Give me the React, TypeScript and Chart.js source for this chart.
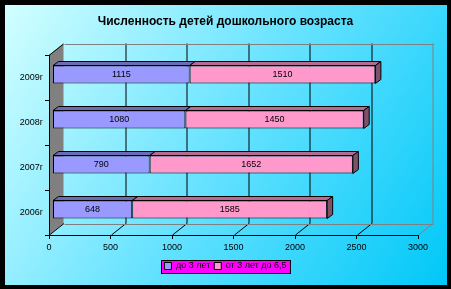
import React, { useEffect, useRef } from "react";
import { Chart, registerables } from "chart.js";

Chart.register(...registerables);

const categories = ["2006г", "2007г", "2008г", "2009г"];
const under3 = [648, 790, 1080, 1115];
const from3to65 = [1585, 1652, 1450, 1510];
const seriesNames = ["до 3 лет", "от 3 лет до 6,5"];
const titleText = "Численность детей дошкольного возраста";

const FONT = "Arial, 'Liberation Sans', sans-serif";
const DX = 14.5; // back-wall depth offset
const DY = 11.5;
const SHIFT_X = 3.5; // bars sit a little behind the front plane
const SHIFT_Y = 3;
const BDX = 5.5; // bar depth
const BDY = 4;

const topColors = ["#6b6bb8", "#b86b91"];
const sideColors = ["#55558a", "#80506a"];

const threeD = {
  id: "threeD",
  beforeDraw(chart: any) {
    const ctx = chart.ctx;
    const W = chart.width;
    const H = chart.height;
    ctx.save();
    ctx.fillStyle = "#000";
    ctx.fillRect(0, 0, W, H);
    const g = ctx.createLinearGradient(5, 5, 447, 285);
    g.addColorStop(0, "#d2ffff");
    g.addColorStop(0.5, "#66e2ff");
    g.addColorStop(1, "#00c8f8");
    ctx.fillStyle = g;
    ctx.fillRect(5, 5, 442, 280);

    const { left: L, right: R, top: T, bottom: B } = chart.chartArea;
    const xs = chart.scales.x;
    // side wall
    ctx.fillStyle = "#808080";
    ctx.beginPath();
    ctx.moveTo(L, T);
    ctx.lineTo(L + DX, T - DY);
    ctx.lineTo(L + DX, B - DY);
    ctx.lineTo(L, B);
    ctx.closePath();
    ctx.fill();
    ctx.strokeStyle = "#000";
    ctx.lineWidth = 1;
    ctx.beginPath();
    ctx.moveTo(L, T + 0.5);
    ctx.lineTo(L + DX, T - DY + 0.5);
    ctx.stroke();
    // back wall gridlines + floor diagonals
    const ticks = xs.ticks;
    ticks.forEach((t: any, i: number) => {
      const px = Math.round(xs.getPixelForValue(t.value)) + 0.5;
      const last = i === ticks.length - 1;
      ctx.strokeStyle = last ? "#808080" : "#000";
      if (i > 0) {
        ctx.beginPath();
        ctx.moveTo(px + DX, T - DY);
        ctx.lineTo(px + DX, B - DY);
        ctx.stroke();
      }
      ctx.beginPath();
      ctx.moveTo(px, B);
      ctx.lineTo(px + DX, B - DY);
      ctx.stroke();
    });
    // back wall frame
    ctx.strokeStyle = "#808080";
    ctx.beginPath();
    ctx.moveTo(Math.round(L + DX) + 0.5, Math.round(T - DY) + 0.5);
    ctx.lineTo(Math.round(R + DX) + 0.5, Math.round(T - DY) + 0.5);
    ctx.moveTo(Math.round(L + DX) + 0.5, Math.round(B - DY) + 0.5);
    ctx.lineTo(Math.round(R + DX) + 0.5, Math.round(B - DY) + 0.5);
    ctx.stroke();

    // legend background
    const lg = chart.legend;
    if (lg && lg.legendHitBoxes && lg.legendHitBoxes.length) {
      const hb = lg.legendHitBoxes;
      const minL = Math.min(...hb.map((h: any) => h.left));
      const maxR = Math.max(...hb.map((h: any) => h.left + h.width));
      const top = Math.min(...hb.map((h: any) => h.top));
      const bot = Math.max(...hb.map((h: any) => h.top + h.height));
      const x0 = Math.round(minL - 3) + 0.5;
      const y0 = Math.round(top - 2) + 0.5;
      const x1 = Math.round(maxR + 3) + 0.5;
      const y1 = Math.round(bot + 2) + 0.5;
      ctx.fillStyle = "#ff00ff";
      ctx.fillRect(x0, y0, x1 - x0, y1 - y0);
      ctx.strokeStyle = "#000";
      ctx.strokeRect(x0, y0, x1 - x0, y1 - y0);
    }
    ctx.restore();
  },
  beforeDatasetsDraw(chart: any) {
    chart.ctx.save();
    chart.ctx.translate(SHIFT_X, -SHIFT_Y);
  },
  afterDatasetsDraw(chart: any) {
    const ctx = chart.ctx;
    const nSets = chart.data.datasets.length;
    ctx.lineWidth = 1;
    ctx.strokeStyle = "#000";
    for (let d = 0; d < nSets; d++) {
      const meta = chart.getDatasetMeta(d);
      meta.data.forEach((bar: any) => {
        const { x, y, base, height } = bar.getProps(["x", "y", "base", "height"], true);
        const top = y - height / 2;
        const bottom = y + height / 2;
        ctx.fillStyle = topColors[d];
        ctx.beginPath();
        ctx.moveTo(base, top);
        ctx.lineTo(x, top);
        ctx.lineTo(x + BDX, top - BDY);
        ctx.lineTo(base + BDX, top - BDY);
        ctx.closePath();
        ctx.fill();
        ctx.stroke();
        if (d === nSets - 1) {
          ctx.fillStyle = sideColors[d];
          ctx.beginPath();
          ctx.moveTo(x, top);
          ctx.lineTo(x + BDX, top - BDY);
          ctx.lineTo(x + BDX, bottom - BDY);
          ctx.lineTo(x, bottom);
          ctx.closePath();
          ctx.fill();
          ctx.stroke();
        }
      });
    }
    ctx.fillStyle = "#000";
    ctx.font = `9px ${FONT}`;
    ctx.textAlign = "center";
    ctx.textBaseline = "middle";
    for (let d = 0; d < nSets; d++) {
      const meta = chart.getDatasetMeta(d);
      const vals = chart.data.datasets[d].data;
      meta.data.forEach((bar: any, i: number) => {
        const { x, y, base } = bar.getProps(["x", "y", "base"], true);
        ctx.fillText(String(vals[i]), (x + base) / 2, y + 0.5);
      });
    }
    ctx.restore();
  },
};

export default function App() {
  const ref = useRef<HTMLCanvasElement | null>(null);
  useEffect(() => {
    if (!ref.current) return;
    const chart = new Chart(ref.current, {
      type: "bar",
      data: {
        labels: categories,
        datasets: [
          {
            label: seriesNames[0],
            data: under3,
            backgroundColor: "#9999ff",
            borderColor: "#000",
            borderWidth: 1,
            borderSkipped: false,
          },
          {
            label: seriesNames[1],
            data: from3to65,
            backgroundColor: "#ff99cc",
            borderColor: "#000",
            borderWidth: 1,
            borderSkipped: false,
          },
        ],
      },
      options: {
        indexAxis: "y",
        responsive: false,
        animation: false,
        devicePixelRatio: 1,
        layout: { padding: { left: 0, right: 0, top: 0, bottom: 8.5 } },
        datasets: { bar: { categoryPercentage: 1, barPercentage: 0.4 } },
        scales: {
          x: {
            stacked: true,
            min: 0,
            max: 3000,
            ticks: {
              stepSize: 500,
              color: "#000",
              font: { size: 9, family: FONT },
              padding: 3,
              maxRotation: 0,
              callback: (v: any) => String(v),
            },
            grid: { drawOnChartArea: false, drawTicks: true, tickLength: 4, color: "#000" },
            border: { display: true, color: "#000" },
            afterFit: (s: any) => {
              s.height = 22.5;
            },
          },
          y: {
            stacked: true,
            reverse: true,
            ticks: { color: "#000", font: { size: 9, family: FONT }, padding: 2 },
            grid: { drawOnChartArea: false, drawTicks: true, tickLength: 4, color: "#000", offset: true },
            border: { display: true, color: "#000" },
            afterFit: (s: any) => {
              s.width = 49;
            },
          },
          yRight: {
            type: "category",
            position: "right",
            labels: categories,
            ticks: { display: false },
            grid: { display: false },
            border: { display: false },
            afterFit: (s: any) => {
              s.width = 33;
            },
          },
        },
        plugins: {
          title: {
            display: true,
            text: titleText,
            color: "#000",
            font: { size: 12, weight: "bold", family: FONT },
            padding: { top: 14, bottom: 26.6 },
          },
          legend: {
            display: true,
            position: "bottom",
            labels: {
              color: "#000",
              boxWidth: 7,
              boxHeight: 7,
              padding: 4,
              font: { size: 9, family: FONT },
            },
          },
          tooltip: { enabled: false },
        },
      },
      plugins: [threeD],
    } as any);
    return () => chart.destroy();
  }, []);
  return (
    <div style={{ position: "absolute", left: 0, top: 0, width: 451, height: 289 }}>
      <canvas ref={ref} width={451} height={289} style={{ display: "block" }} />
    </div>
  );
}
